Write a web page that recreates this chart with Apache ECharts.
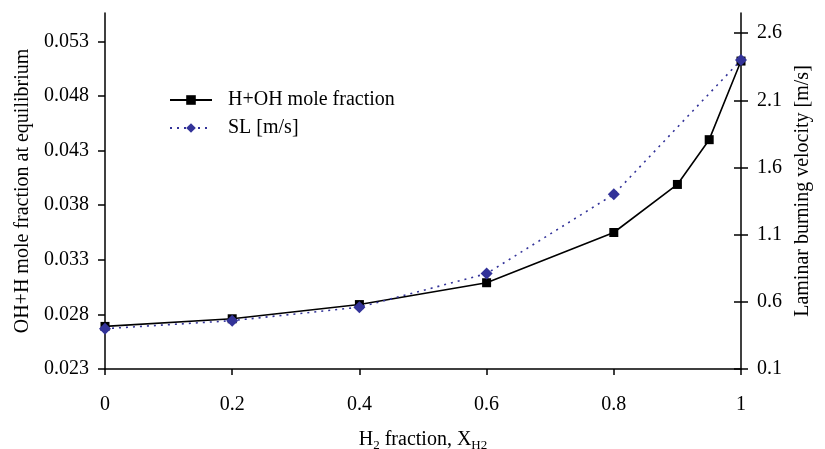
<!DOCTYPE html>
<html>
<head>
<meta charset="utf-8">
<script src="https://cdn.jsdelivr.net/npm/echarts@6/dist/echarts.min.js"></script>
<style>
html,body{margin:0;padding:0;background:#fff;}
#chart{width:825px;height:449px;}
</style>
</head>
<body>
<div id="chart"></div>
<script>
// ---- data ----
var hohX = [0, 0.2, 0.4, 0.6, 0.8, 0.9, 0.95, 1];
var hohValues = [0.0269, 0.0276, 0.0289, 0.0309, 0.0355, 0.0399, 0.0440, 0.0512];
var slX = [0, 0.2, 0.4, 0.6, 0.8, 1];
var slValues = [0.40, 0.46, 0.56, 0.81, 1.40, 2.40];
var leftTicks = [0.023, 0.028, 0.033, 0.038, 0.043, 0.048, 0.053];
var rightTicks = [0.1, 0.6, 1.1, 1.6, 2.1, 2.6];
var seriesNames = ['H+OH mole fraction', 'SL [m/s]'];

var FONT = '"Liberation Serif", "Times New Roman", serif';
var chart = echarts.init(document.getElementById('chart'), null, {renderer: 'canvas'});

function pairs(xs, ys) { return xs.map(function (x, i) { return [x, ys[i]]; }); }

var option = {
  backgroundColor: '#ffffff',
  animation: false,
  textStyle: {fontFamily: FONT, color: '#000'},
  grid: {left: 105, right: 84, top: 13, bottom: 80, containLabel: false, outerBoundsMode: 'none'},
  legend: {
    left: 164, top: 85, orient: 'vertical',
    itemWidth: 42, itemHeight: 12, itemGap: 8,
    textStyle: {fontFamily: FONT, fontSize: 20, color: '#000', padding: [0, 0, 0, 11]},
    data: seriesNames
  },
  xAxis: {
    type: 'value', min: 0, max: 1, interval: 0.2,
    name: '{n|H}{s|2}{n| fraction, X}{s|H2}',
    nameLocation: 'middle', nameGap: 58,
    nameTextStyle: {
      rich: {
        n: {fontFamily: FONT, fontSize: 20, color: '#000'},
        s: {fontFamily: FONT, fontSize: 13, color: '#000', verticalAlign: 'bottom', padding: [12, 0, 0, 0]}
      }
    },
    axisLine: {onZero: false, lineStyle: {color: '#000', width: 1.5}},
    axisTick: {inside: false, length: 6, lineStyle: {color: '#000', width: 1.5}},
    axisLabel: {fontFamily: FONT, fontSize: 20, color: '#000', margin: 26,
      formatter: function (v) { return String(Math.round(v * 10) / 10); }},
    splitLine: {show: false}
  },
  yAxis: [
    {
      type: 'value', position: 'left', min: 0.023, max: 0.0556,
      name: 'OH+H mole fraction at equilibrium', nameLocation: 'middle', nameGap: 70, nameRotate: 90,
      nameTextStyle: {fontFamily: FONT, fontSize: 20, color: '#000'},
      axisLine: {show: true, lineStyle: {color: '#000', width: 1.5}},
      axisTick: {show: true, inside: false, length: 7, customValues: leftTicks, lineStyle: {color: '#000', width: 1.5}},
      axisLabel: {fontFamily: FONT, fontSize: 20, color: '#000', margin: 16, customValues: leftTicks,
        formatter: function (v) { return v.toFixed(3); }},
      splitLine: {show: false}
    },
    {
      type: 'value', position: 'right', min: 0.1, max: 2.75,
      name: 'Laminar burning velocity [m/s]', nameLocation: 'middle', nameGap: 49, nameRotate: 90,
      nameTextStyle: {fontFamily: FONT, fontSize: 20, color: '#000'},
      axisLine: {show: true, lineStyle: {color: '#000', width: 1.5}},
      axisTick: {show: true, inside: false, length: 7, customValues: rightTicks, lineStyle: {color: '#000', width: 1.5}},
      axisLabel: {fontFamily: FONT, fontSize: 20, color: '#000', margin: 16, customValues: rightTicks,
        formatter: function (v) { return v.toFixed(1); }},
      splitLine: {show: false}
    },
    {
      type: 'value', position: 'right', min: 0.1, max: 2.75,
      axisLine: {show: false},
      axisTick: {show: true, inside: true, length: 7, customValues: rightTicks, lineStyle: {color: '#000', width: 1.5}},
      axisLabel: {show: false},
      splitLine: {show: false}
    }
  ],
  series: [
    {
      name: seriesNames[0], type: 'line', yAxisIndex: 0,
      data: pairs(hohX, hohValues),
      symbol: 'rect', symbolSize: 9,
      itemStyle: {color: '#000'},
      lineStyle: {color: '#000', width: 1.6, type: 'solid'},
      z: 3
    },
    {
      name: seriesNames[1], type: 'line', yAxisIndex: 1,
      data: pairs(slX, slValues),
      symbol: 'diamond', symbolSize: 12,
      itemStyle: {color: '#333399'},
      lineStyle: {color: '#333399', width: 1.6, type: [2, 5]},
      z: 4
    }
  ]
};
chart.setOption(option);
</script>
</body>
</html>
